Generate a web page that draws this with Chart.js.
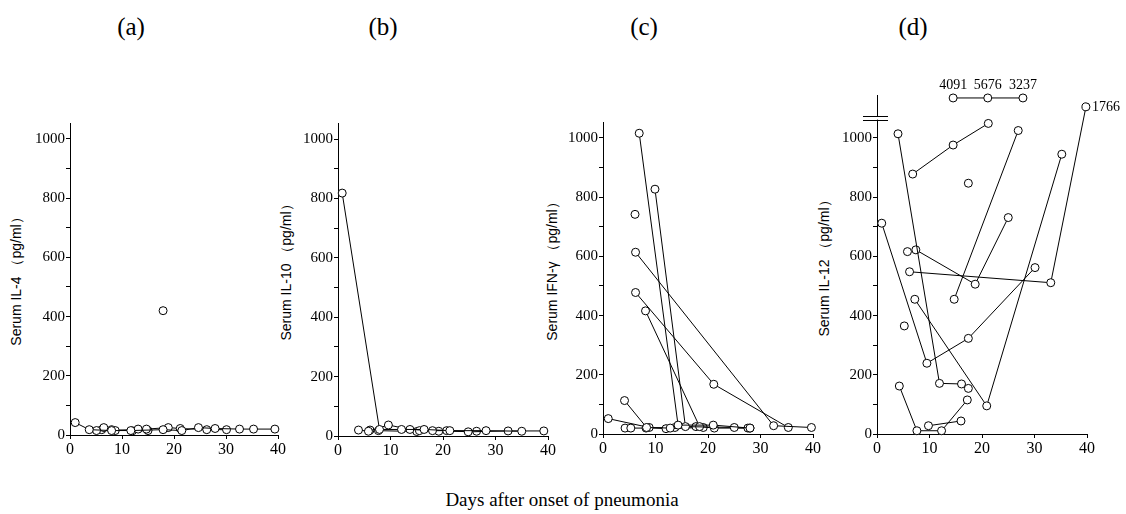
<!DOCTYPE html>
<html><head><meta charset="utf-8">
<script src="https://cdn.jsdelivr.net/npm/chart.js@4.4.1/dist/chart.umd.min.js"></script>
<style>
body{margin:0;background:#fff;width:1126px;height:514px;overflow:hidden;position:relative;}
canvas{position:absolute;}
.ptitle{position:absolute;font-family:"Liberation Serif",serif;font-size:25px;transform:translate(-50%,-50%);white-space:nowrap;}
.ytitle{position:absolute;font-family:"Liberation Sans",sans-serif;font-size:14px;white-space:nowrap;transform:translate(-50%,-50%) rotate(-90deg);}
.xtitle{position:absolute;font-family:"Liberation Serif",serif;font-size:19px;white-space:nowrap;transform:translate(-50%,-50%);}
</style></head><body>
<div class="ptitle" style="left:131px;top:27px">(a)</div>
<div class="ptitle" style="left:383px;top:27px">(b)</div>
<div class="ptitle" style="left:644px;top:27px">(c)</div>
<div class="ptitle" style="left:913px;top:27px">(d)</div>
<div class="ytitle" style="left:17px;top:278px">Serum IL-4 （pg/ml）</div>
<div class="ytitle" style="left:287px;top:269px">Serum IL-10 （pg/ml）</div>
<div class="ytitle" style="left:553px;top:268px">Serum IFN-γ （pg/ml）</div>
<div class="ytitle" style="left:825px;top:265px">Serum IL-12 （pg/ml）</div>
<div class="xtitle" style="left:562px;top:500px">Days after onset of pneumonia</div>
<canvas id="ca"></canvas>
<canvas id="cb"></canvas>
<canvas id="cc"></canvas>
<canvas id="cd"></canvas>
<script>
// ---- tick labels ----
const xTickLabels = [0, 10, 20, 30, 40];
const yTickLabels = [0, 200, 400, 600, 800, 1000];

// ---- (a) Serum IL-4: [day, pg/ml] ----
const il4_p1 = [[1,42],[3.7,18],[8,15],[11.7,15],[17.9,18],[21.5,15],[24.7,25],[27.9,22],[32.6,20],[35.3,20],[39.4,20]];
const il4_p2 = [[5.1,15],[6.5,25],[8.7,15],[13.1,20],[14.7,20],[18.9,25],[21.2,22],[26.3,18],[30.1,18]];
const il4_p3 = [[6.1,18],[8,18],[12,14],[15,15]];
const il4_p4 = [[17.9,420]];

// ---- (b) Serum IL-10 ----
const il10_p1 = [[0.8,818],[7.9,22],[12.1,22],[16.4,22],[21.3,18],[28.2,18],[35,16]];
const il10_p2 = [[3.9,20],[5.8,16],[9.6,37],[13.7,22],[18,18],[20.7,18],[24.8,14],[32.4,17],[39.2,17]];
const il10_p3 = [[6.1,20],[7.7,18],[15,15],[15.5,18],[19.2,16],[26.4,16]];

// ---- (c) Serum IFN-gamma ----
const ifn_p1 = [[6.9,1016],[14.3,30],[21,30],[28,20]];
const ifn_p2 = [[9.9,827],[15.7,25],[25,22],[27.6,20]];
const ifn_p3 = [[6.1,742]];
const ifn_p4 = [[6.2,614],[32.5,28],[39.7,22]];
const ifn_p5 = [[6.2,478],[21.1,168],[35.3,22]];
const ifn_p6 = [[8.1,416],[18.4,25],[21.2,20],[28,20]];
const ifn_p7 = [[4.1,113],[8.3,22],[12.8,20],[17.7,25]];
const ifn_p8 = [[1,52],[8.8,22],[12,18],[19.1,22]];
const ifn_p9 = [[4.2,20],[5.3,20],[8.2,20],[13.7,22]];

// ---- (d) Serum IL-12 ----
const il12_p1 = [[0.9,712],[9.5,239],[17.4,323],[30.1,562]];
const il12_p2 = [[4,1014],[11.9,171],[16.1,169],[17.4,154]];
const il12_p3 = [[7.2,455],[20.9,95],[35.2,945]];
const il12_p4 = [[4.25,162],[7.6,11],[12.3,11],[17.2,115]];
const il12_p5 = [[9.8,28],[16,44]];
const il12_p6 = [[6.8,878],[14.5,976],[21.2,1049]];
const il12_p7 = [[17.4,847]];
const il12_p8 = [[14.7,455],[26.9,1025]];
const il12_p9 = [[5.8,616]];
const il12_p10 = [[7.4,622],[18.7,506],[25,731]];
const il12_p11 = [[6.2,548],[33.1,511],[39.8,1766]];
const il12_p12 = [[5.2,365]];
const il12_p13 = [[14.5,4091],[21.1,5676],[27.8,3237]];

// broken axis in (d): values above the break are drawn in the strip above it
const BREAK_AT = 1060;
function il12Display(v) {
  if (v <= BREAK_AT) return v;
  return v < 2000 ? 1105 : 1135;
}

const SERIF = 'Liberation Serif';

const labelPlugin = {
  id: 'valLabels',
  afterDatasetsDraw(chart) {
    const ctx = chart.ctx;
    chart.data.datasets.forEach((ds, i) => {
      if (!ds.valueLabels) return;
      const meta = chart.getDatasetMeta(i);
      ctx.save();
      ctx.fillStyle = '#000';
      ctx.font = '14px "' + SERIF + '"';
      meta.data.forEach((pt, j) => {
        const raw = ds.rawValues[j];
        if (raw <= BREAK_AT) return;
        if (ds.valueLabels === 'above') {
          ctx.textAlign = 'center'; ctx.textBaseline = 'bottom';
          ctx.fillText(String(raw), pt.x, pt.y - 6);
        } else {
          ctx.textAlign = 'left'; ctx.textBaseline = 'middle';
          ctx.fillText(String(raw), pt.x + 6, pt.y);
        }
      });
      ctx.restore();
    });
  }
};

const breakPlugin = {
  id: 'axisBreak',
  afterDraw(chart) {
    if (!chart.options.plugins.axisBreak || !chart.options.plugins.axisBreak.on) return;
    const ctx = chart.ctx, ys = chart.scales.y, x0 = chart.chartArea.left;
    const y1 = ys.getPixelForValue(1074), y2 = ys.getPixelForValue(1062);
    ctx.save();
    ctx.fillStyle = '#fff';
    ctx.fillRect(x0 - 2, y1, 4, y2 - y1);
    ctx.strokeStyle = '#000'; ctx.lineWidth = 1;
    ctx.beginPath();
    ctx.moveTo(x0 - 14, Math.round(y1) + 0.5); ctx.lineTo(x0 + 11, Math.round(y1) + 0.5);
    ctx.moveTo(x0 - 14, Math.round(y2) + 0.5); ctx.lineTo(x0 + 11, Math.round(y2) + 0.5);
    ctx.stroke();
    ctx.restore();
  }
};

function panel(id, g, series, mapY, labelMode) {
  const cv = document.getElementById(id);
  cv.width = g.w; cv.height = g.h;
  cv.style.left = g.x + 'px'; cv.style.top = g.y + 'px';
  const datasets = series.map((s, k) => {
    const ds = {
      data: s.map(p => ({ x: p[0], y: mapY ? mapY(p[1]) : p[1] })),
      rawValues: s.map(p => p[1]),
      showLine: s.length > 1,
      borderColor: '#000', borderWidth: 1,
      pointRadius: 4, pointBackgroundColor: '#fff',
      pointBorderColor: '#000', pointBorderWidth: 1,
      clip: false, tension: 0
    };
    if (labelMode) ds.valueLabels = labelMode(s, k);
    return ds;
  });
  return new Chart(cv, {
    type: 'scatter',
    data: { datasets },
    options: {
      responsive: false, animation: false, events: [],
      layout: { padding: { top: g.padTop, right: g.padRight, left: 0, bottom: 0 } },
      plugins: { legend: { display: false }, tooltip: { enabled: false }, axisBreak: { on: !!g.brk } },
      scales: {
        x: {
          type: 'linear', min: 0, max: 40,
          afterBuildTicks(s) { s.ticks = xTickLabels.map(v => ({ value: v })); },
          ticks: { font: { family: SERIF, size: 16 }, color: '#000', padding: 1, maxRotation: 0 },
          grid: { drawOnChartArea: false, drawTicks: true, tickLength: 4, color: '#000' },
          border: { color: '#000', width: 1 },
          afterFit(s) { s.height = g.xh; }
        },
        y: {
          type: 'linear', min: 0, max: g.ymax,
          afterBuildTicks(s) {
            const t = [];
            for (let v = 0; v <= 1000; v += 100) t.push({ value: v });
            s.ticks = t;
          },
          ticks: {
            font: { family: SERIF, size: 15 }, color: '#000', padding: 1,
            callback: v => yTickLabels.includes(v) ? String(v) : ''
          },
          grid: { drawOnChartArea: false, drawTicks: true, tickLength: 4, color: '#000' },
          border: { color: '#000', width: 1 },
          afterFit(s) { s.width = g.yw; }
        }
      }
    },
    plugins: [labelPlugin, breakPlugin]
  });
}

panel('ca', { x: 0, y: 60, w: 300, h: 410, yw: 70, xh: 35, ymax: 1054, padTop: 63, padRight: 22 },
  [il4_p1, il4_p2, il4_p3, il4_p4]);
panel('cb', { x: 290, y: 60, w: 280, h: 410, yw: 48, xh: 34, ymax: 1054, padTop: 63, padRight: 22 },
  [il10_p1, il10_p2, il10_p3]);
panel('cc', { x: 560, y: 60, w: 275, h: 410, yw: 43, xh: 36, ymax: 1054, padTop: 62, padRight: 22 },
  [ifn_p1, ifn_p2, ifn_p3, ifn_p4, ifn_p5, ifn_p6, ifn_p7, ifn_p8, ifn_p9]);
panel('cd', { x: 830, y: 60, w: 296, h: 410, yw: 47, xh: 36, ymax: 1145, padTop: 35, padRight: 39, brk: true },
  [il12_p1, il12_p2, il12_p3, il12_p4, il12_p5, il12_p6, il12_p7, il12_p8, il12_p9, il12_p10, il12_p11, il12_p12, il12_p13],
  il12Display,
  (s) => s === il12_p13 ? 'above' : (s === il12_p11 ? 'right' : null));
</script>
</body></html>
